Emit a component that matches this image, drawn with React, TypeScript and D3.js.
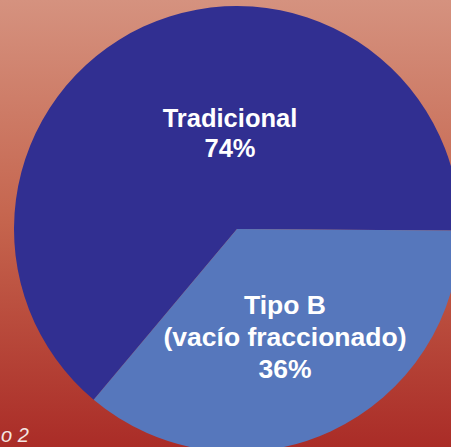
import React from "react";
import * as d3 from "d3";

const categories = ["Tradicional", "Tipo B"];
const values = [64, 36];
const labelLines = [["Tradicional", "74%"], ["Tipo B", "(vacío fraccionado)", "36%"]];
const colors = ["#312F91", "#5677BC"];
const footnote = "o 2";

const W = 451;
const H = 447;

export default function App() {
  const cx = 237;
  const cy = 229;
  const r = 223;
  const pie = d3
    .pie<number>()
    .sort(null)
    .startAngle((220 * Math.PI) / 180)
    .endAngle((580 * Math.PI) / 180);
  const arcs = pie(values);
  const arc = d3.arc<d3.PieArcDatum<number>>().innerRadius(0).outerRadius(r);
  const labelPos = [
    { x: 230, y: 127 },
    { x: 285, y: 314 },
  ];
  const lineH = [30, 32];
  const fontSizes = [25.5, 26.5];
  return (
    <svg
      width={W}
      height={H}
      style={{ position: "absolute", left: 0, top: 0, display: "block" }}
      fontFamily="'Liberation Sans', Arial, Helvetica, sans-serif"
    >
      <defs>
        <linearGradient id="bg" x1="0" y1="0" x2="0" y2="1">
          <stop offset="0" stopColor="#D5927F" />
          <stop offset="0.5" stopColor="#C5644D" />
          <stop offset="1" stopColor="#AA2C27" />
        </linearGradient>
      </defs>
      <rect x={0} y={0} width={W} height={H} fill="url(#bg)" />
      <g transform={`translate(${cx},${cy})`}>
        {arcs.map((a, i) => (
          <path key={categories[i]} d={arc(a) || ""} fill={colors[i]} />
        ))}
      </g>
      {labelLines.map((lines, i) => (
        <text
          key={categories[i]}
          x={labelPos[i].x}
          y={labelPos[i].y}
          textAnchor="middle"
          fill="#FFFFFF"
          fontWeight="bold"
          fontSize={fontSizes[i]}
        >
          {lines.map((l, j) => (
            <tspan key={j} x={labelPos[i].x} y={labelPos[i].y + j * lineH[i]}>
              {l}
            </tspan>
          ))}
        </text>
      ))}
      <text x={1} y={442} fill="#F4E6E2" fontStyle="italic" fontSize={20} fontWeight={300}>
        {footnote}
      </text>
    </svg>
  );
}
